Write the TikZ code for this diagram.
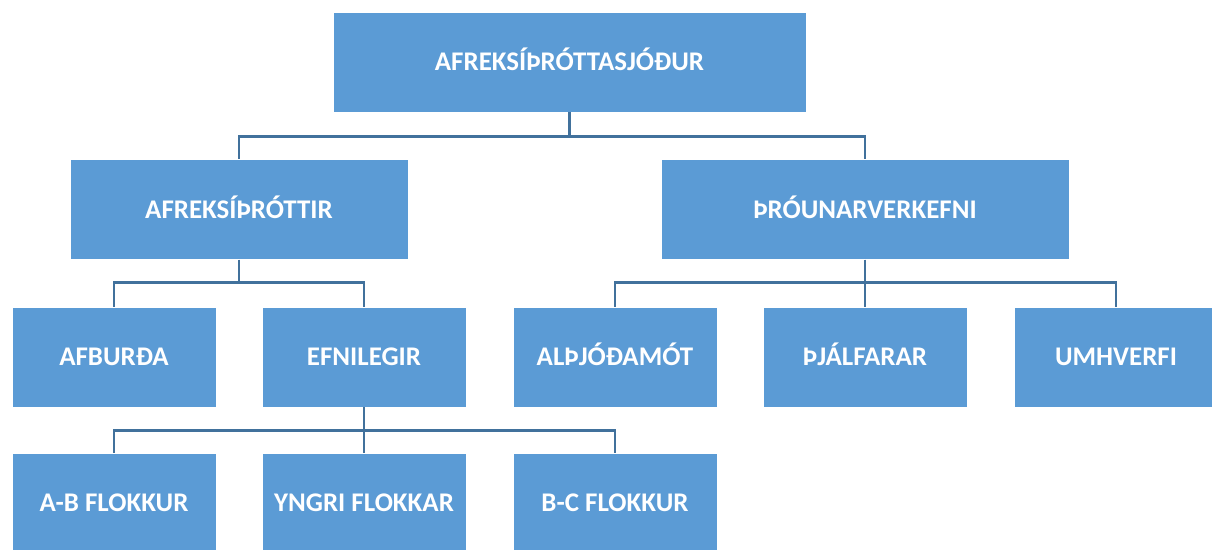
\documentclass[tikz,border=0pt]{standalone}
\usepackage{fontspec}
\setmainfont{Carlito}
\definecolor{boxblue}{HTML}{5B9BD5}
\definecolor{lineblue}{HTML}{41719C}
\tikzset{
	box/.style={fill=boxblue, draw=white, line width=0.4pt, inner sep=0pt, text=white,
		font=\fontsize{20.2}{23}\selectfont\bfseries, text height=13pt, text depth=0pt,
		minimum height=75pt},
	wide/.style={box, minimum width=354.75pt},
	midbox/.style={box, minimum width=253.5pt},
	bigbox/.style={box, minimum width=306pt},
	small/.style={box, minimum width=153pt},
	link/.style={draw=lineblue, line width=2pt}
}
\begin{document}
\begin{tikzpicture}[x=0.75pt, y=-0.75pt]
				\useasboundingbox (0,0) rectangle (1212,549);
				\clip (0,0) rectangle (1212,549);

				\node[wide] (fund) at (569.5,62) {AFREKSÍÞRÓTTASJÓÐUR};

				\node[midbox] (sport) at (239,209.5) {AFREKSÍÞRÓTTIR};
				\node[bigbox] (devel) at (865,209.5) {ÞRÓUNARVERKEFNI};

				\node[small] (afburda) at (114,357) {AFBURÐA};
				\node[small] (efni) at (364,357) {EFNILEGIR};
				\node[small] (althjod) at (615,357) {ALÞJÓÐAMÓT};
				\node[small] (thjalf) at (865,357) {ÞJÁLFARAR};
				\node[small] (umhv) at (1116,357) {UMHVERFI};

				\node[small] (ab) at (114,503) {A-B FLOKKUR};
				\node[small] (yngri) at (364,503) {YNGRI FLOKKAR};
				\node[small] (bc) at (615,503) {B-C FLOKKUR};

				\draw[link] (fund.south) -- ++(0,24) -| (sport.north);
				\draw[link] (fund.south) -- ++(0,24) -| (devel.north);

				\draw[link] (sport.south) -- ++(0,23) -| (afburda.north);
				\draw[link] (sport.south) -- ++(0,23) -| (efni.north);

				\draw[link] (devel.south) -- ++(0,23) -| (althjod.north);
				\draw[link] (devel.south) -- (thjalf.north);
				\draw[link] (devel.south) -- ++(0,23) -| (umhv.north);

				\draw[link] (efni.south) -- ++(0,23) -| (ab.north);
				\draw[link] (efni.south) -- (yngri.north);
				\draw[link] (efni.south) -- ++(0,23) -| (bc.north);
			\end{tikzpicture}
\end{document}
